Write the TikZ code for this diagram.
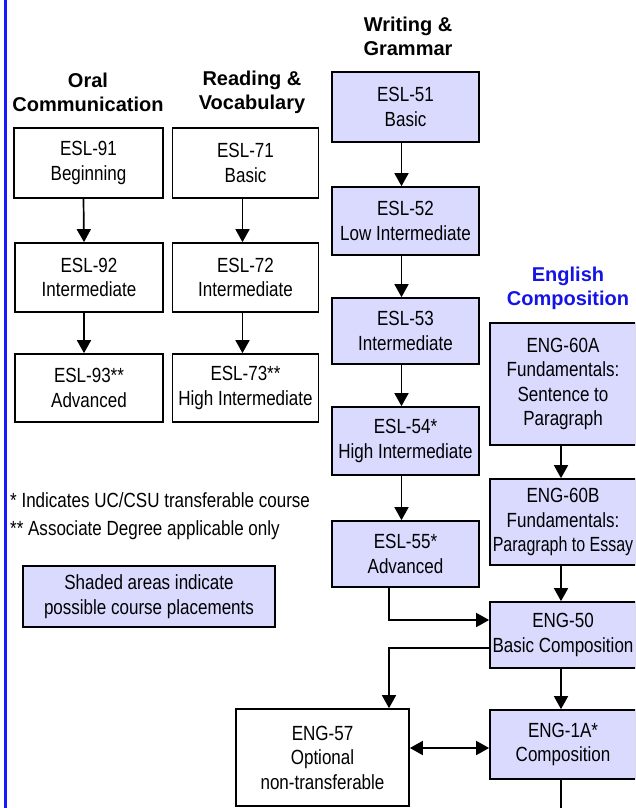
\documentclass[tikz,border=0pt]{standalone}
\usepackage{fontspec}
\setmainfont{Liberation Sans}
\newfontfamily\cond[FakeStretch=0.83]{Liberation Sans}
\newfontfamily\condn[FakeStretch=0.78]{Liberation Sans}
\usetikzlibrary{arrows.meta,calc}
\definecolor{shade}{RGB}{218,218,255}
\definecolor{edgeblue}{RGB}{25,25,255}
\definecolor{headblue}{RGB}{20,20,230}
\tikzset{
  crs/.style={draw, line width=1.7pt, inner sep=0pt, align=center,
    font=\cond\fontsize{20.5}{24.5}\selectfont},
  shd/.style={crs, fill=shade},
  hdr/.style={align=center, inner sep=0pt, font=\bfseries\fontsize{20}{24}\selectfont},
  arr/.style={line width=1.7pt, -{Triangle[width=14pt,length=13pt]}},
  ln/.style={line width=1.7pt},
  note/.style={anchor=west, inner sep=0pt, font=\cond\fontsize{20.5}{24.5}\selectfont}
}
\begin{document}
\begin{tikzpicture}[x=1pt,y=-1pt]
\useasboundingbox (0,0) rectangle (635,808);
\clip (0,0) rectangle (635,808);
\draw[edgeblue, line width=2.7pt] (5.3,-2) -- (5.3,810);

% headers
\node[hdr] (hO) at (88,92) {Oral\\Communication};
\node[hdr] (hR) at (252,92) {Reading \&\\Vocabulary};
\node[hdr] (hW) at (408,36) {Writing \&\\Grammar};
\node[hdr, text=headblue] (hE) at (568,288) {English\\Composition};

% oral
\node[crs, minimum width=149pt, minimum height=70pt] (o1) at (88.5,163) {ESL-91\\Beginning};
\node[crs, minimum width=148pt, minimum height=69pt] (o2) at (89,277.5) {ESL-92\\Intermediate};
\node[crs, minimum width=148pt, minimum height=68pt] (o3) at (89,388) {ESL-93**\\Advanced};
% reading
\node[crs, minimum width=146pt, minimum height=70pt] (r1) at (245.5,163) {ESL-71\\Basic};
\node[crs, minimum width=146pt, minimum height=69pt] (r2) at (245.5,277.5) {ESL-72\\Intermediate};
\node[crs, minimum width=146pt, minimum height=68pt] (r3) at (245.5,388) {ESL-73**\\High Intermediate};
% writing
\node[shd, minimum width=147pt, minimum height=70pt] (w1) at (405.5,107) {ESL-51\\Basic};
\node[shd, minimum width=147pt, minimum height=68pt] (w2) at (405.5,221) {ESL-52\\Low Intermediate};
\node[shd, minimum width=147pt, minimum height=66pt] (w3) at (405.5,331) {ESL-53\\Intermediate};
\node[shd, minimum width=147pt, minimum height=68pt] (w4) at (405.5,441) {ESL-54*\\High Intermediate};
\node[shd, minimum width=147pt, minimum height=66pt] (w5) at (405.5,554) {ESL-55*\\Advanced};
% english
\node[shd, minimum width=146pt, minimum height=122pt] (e1) at (563,384) {ENG-60A\\Fundamentals:\\Sentence to\\Paragraph};
\node[shd, minimum width=146pt, minimum height=86pt] (e2) at (563,522) {ENG-60B\\Fundamentals:\\{\condn Paragraph to Essay}};
\node[shd, minimum width=146pt, minimum height=66pt] (e3) at (563,635) {ENG-50\\Basic Composition};
\node[shd, minimum width=146pt, minimum height=69pt] (e4) at (563,744.5) {ENG-1A*\\Composition};
\node[crs, minimum width=173pt, minimum height=97pt] (g) at (322.5,757.5) {ENG-57\\Optional\\non-transferable};

% legend
\node[note] (n1) at (10,500) {* Indicates UC/CSU transferable course};
\node[note] (n2) at (10,530) {** Associate Degree applicable only};
\node[shd, minimum width=252pt, minimum height=61pt] (lg) at (149,596.5) {Shaded areas indicate\\possible course placements};

% arrows
\draw[arr] ([xshift=-5pt]o1.south) -- ([xshift=-5pt]o2.north);
\draw[arr] ([xshift=-5pt]o2.south) -- ([xshift=-5pt]o3.north);
\draw[arr] ([xshift=-3pt]r1.south) -- ([xshift=-3pt]r2.north);
\draw[arr] ([xshift=-3pt]r2.south) -- ([xshift=-3pt]r3.north);
\draw[arr] ([xshift=-4pt]w1.south) -- ([xshift=-4pt]w2.north);
\draw[arr] ([xshift=-4pt]w2.south) -- ([xshift=-4pt]w3.north);
\draw[arr] ([xshift=-4pt]w3.south) -- ([xshift=-4pt]w4.north);
\draw[arr] ([xshift=-4pt]w4.south) -- ([xshift=-4pt]w5.north);
\draw[arr] ([xshift=-2pt]e1.south) -- ([xshift=-2pt]e2.north);
\draw[arr] ([xshift=-2pt]e2.south) -- ([xshift=-2pt]e3.north);
\draw[arr] ([xshift=-2pt]e3.south) -- ([xshift=-2pt]e4.north);
\coordinate (c1) at (389,620);
\draw[arr] (w5.south -| c1) -- (c1) -- (c1 -| e3.west);
\coordinate (c2) at (389,648);
\draw[arr] (c2 -| e3.west) -- (c2) -- (c2 |- g.north);
\coordinate (c3) at (0,748);
\draw[line width=1.7pt, {Triangle[width=14pt,length=13pt]}-{Triangle[width=14pt,length=13pt]}] (c3 -| g.east) -- (c3 -| e4.west);
\coordinate (c4) at (561,812);
\draw[ln] (e4.south -| c4) -- (c4);
\end{tikzpicture}
\end{document}
